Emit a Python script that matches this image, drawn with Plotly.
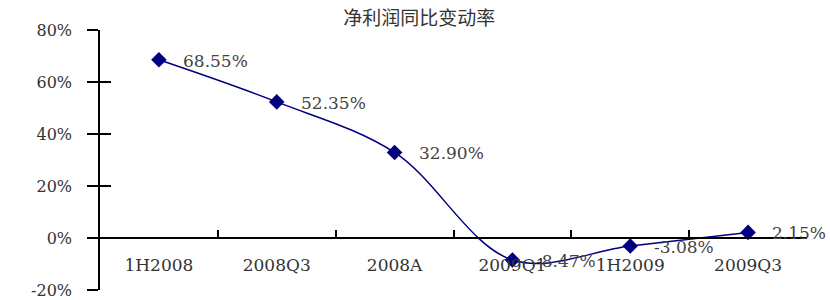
import plotly.graph_objects as go

categories = ["1H2008", "2008Q3", "2008A", "2009Q1", "1H2009", "2009Q3"]
values = [68.55, 52.35, 32.90, -8.47, -3.08, 2.15]
label_texts = ["68.55%", "52.35%", "32.90%", "-8.47%", "-3.08%", "2.15%"]
y_ticks = [-20, 0, 20, 40, 60, 80]
y_tick_labels = ["-20%", "0%", "20%", "40%", "60%", "80%"]
title_text = "净利润同比变动率"

NAVY = "#00007f"
FONT = "DejaVu Serif"

fig = go.Figure()
fig.add_trace(go.Scatter(
    x=categories, y=values, mode="lines+markers",
    line=dict(color=NAVY, width=1.5, shape="spline", smoothing=1.0),
    marker=dict(symbol="diamond", size=12, color=NAVY),
    showlegend=False, hoverinfo="skip",
))
# overlay axis for inward half of y ticks
fig.add_trace(go.Scatter(x=[categories[0]], y=[values[0]], yaxis="y2",
                         mode="markers", marker=dict(opacity=0),
                         showlegend=False, hoverinfo="skip"))

for c, v, t in zip(categories, values, label_texts):
    fig.add_annotation(x=c, y=v, text=t, showarrow=False, xanchor="left",
                       yanchor="middle", xshift=22, yshift=-1,
                       font=dict(family=FONT, size=17, color="#444444"))

fig.update_layout(
    width=830, height=300,
    margin=dict(l=100, r=23, t=30, b=10, autoexpand=False),
    paper_bgcolor="white", plot_bgcolor="white",
    title=dict(text=title_text, x=0.505, xanchor="center", y=0.94, yanchor="middle",
               font=dict(family="Noto Sans CJK SC", size=19, color="#333333")),
    xaxis=dict(
        type="category", range=[-0.5, 5.5], anchor="free", position=0.2,
        showline=True, linecolor="black", linewidth=1.5, automargin=False,
        ticks="inside", ticklen=7, tickcolor="black", tickwidth=1.5,
        tickson="boundaries", showgrid=False, zeroline=False,
        ticklabelstandoff=12,
        tickfont=dict(family=FONT, size=17, color="#333333"),
    ),
    yaxis=dict(
        range=[-20, 80], tickvals=y_ticks, ticktext=y_tick_labels,
        showline=True, linecolor="black", linewidth=1.5, automargin=False,
        ticks="outside", ticklen=11, tickcolor="black", tickwidth=1.5,
        ticklabelstandoff=12, showgrid=False, zeroline=False,
        tickfont=dict(family=FONT, size=16, color="#333333"),
    ),
    yaxis2=dict(
        range=[-20, 80], tickvals=y_ticks, overlaying="y", side="left",
        showline=False, ticks="inside", ticklen=11, tickcolor="black",
        tickwidth=1.5, showticklabels=False, showgrid=False, zeroline=False,
        automargin=False,
    ),
)

fig.write_html("out.html",
               config={"displayModeBar": False},
               post_script="document.body.style.margin='0';document.body.style.overflow='hidden';")
